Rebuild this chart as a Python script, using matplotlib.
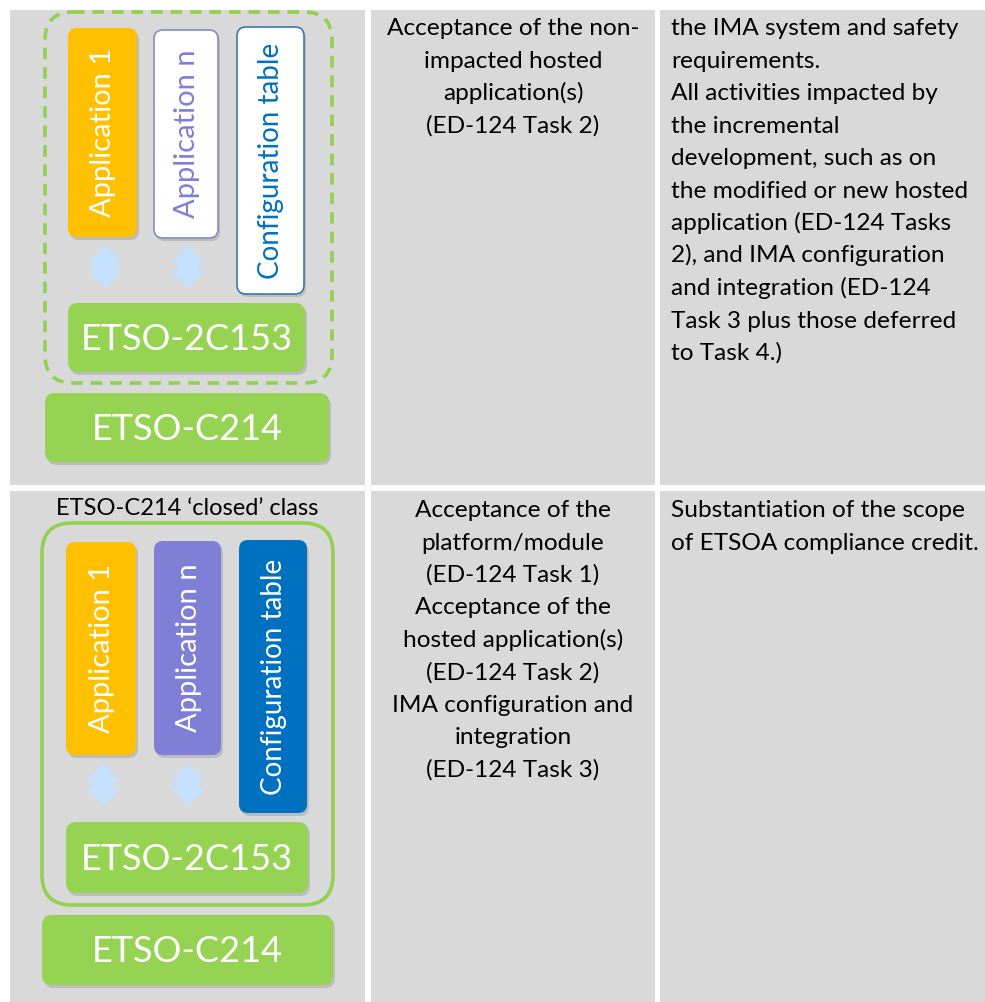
import matplotlib
matplotlib.use("Agg")
import matplotlib.pyplot as plt
from matplotlib.patches import FancyBboxPatch, Rectangle, Polygon

plt.rcParams['font.family'] = ['Lato', 'DejaVu Sans']

W, H = 985, 1002
CELL_GRAY = "#d9d9d9"

# table grid (pixel edges)
col_edges = [(10, 365), (371, 655), (660, 985)]
row_edges = [(10, 485), (491, 1002)]

# cell texts
r1c2_lines = ["Acceptance of the non-", "impacted hosted", "application(s)", "(ED-124 Task 2)"]
r1c3_lines = ["the IMA system and safety", "requirements.", "All activities impacted by",
              "the incremental", "development, such as on", "the modified or new hosted",
              "application (ED-124 Tasks", "2), and IMA configuration",
              "and integration (ED-124", "Task 3 plus those deferred", "to Task 4.)"]
r2c2_lines = ["Acceptance of the", "platform/module", "(ED-124 Task 1)", "Acceptance of the",
              "hosted application(s)", "(ED-124 Task 2)", "IMA configuration and",
              "integration", "(ED-124 Task 3)"]
r2c3_lines = ["Substantiation of the scope", "of ETSOA compliance credit."]

# diagram labels
app1_label = "Application 1"
appn_label = "Application n"
cfg_label = "Configuration table"
inner_label = "ETSO-2C153"
outer_label = "ETSO-C214"
closed_title = "ETSO-C214 \u2018closed\u2019 class"

ORANGE = "#ffc000"
GREEN = "#96d352"
GREEN_LINE = "#92d050"
PURPLE = "#7f7fd8"
PURPLE_EDGE = "#8a8ac4"
BLUE = "#0070c0"
BLUE_EDGE = "#3a78b0"
ARROW = "#c4e0fc"

fig = plt.figure(figsize=(W / 100, H / 100), dpi=100)
ax = fig.add_axes([0, 0, 1, 1])
ax.set_xlim(0, W)
ax.set_ylim(H, 0)
ax.axis("off")
fig.patch.set_facecolor("white")

for (x0, x1) in col_edges:
    for (y0, y1) in row_edges:
        ax.add_patch(Rectangle((x0, y0), x1 - x0, y1 - y0, facecolor=CELL_GRAY, edgecolor="none", zorder=0))


def rbox(x0, y0, x1, y1, fc, ec="none", lw=0, r=9, ls="-", shadow=True, z=2):
    if shadow:
        ax.add_patch(FancyBboxPatch((x0 + 2, y0 + 3), x1 - x0, y1 - y0,
                                    boxstyle=f"round,pad=0,rounding_size={r}",
                                    facecolor="#888888", edgecolor="none", alpha=0.35, zorder=z - 0.5))
    ax.add_patch(FancyBboxPatch((x0, y0), x1 - x0, y1 - y0,
                                boxstyle=f"round,pad=0,rounding_size={r}",
                                facecolor=fc, edgecolor=ec, linewidth=lw, linestyle=ls, zorder=z))


def darrow(cx, top, bot, w=18):
    h = bot - top
    pts = [(cx, top), (cx + w, top + 0.42 * h), (cx + 0.6 * w, top + 0.42 * h),
           (cx + 0.6 * w, top + 0.58 * h), (cx + w, top + 0.58 * h), (cx, bot),
           (cx - w, top + 0.58 * h), (cx - 0.6 * w, top + 0.58 * h),
           (cx - 0.6 * w, top + 0.42 * h), (cx - w, top + 0.42 * h)]
    ax.add_patch(Polygon(pts, closed=True, facecolor=ARROW, edgecolor="none", zorder=2))


def vtext(x0, y0, x1, y1, s, color, size):
    ax.text((x0 + x1) / 2 + 1, (y0 + y1) / 2, s, rotation=90, ha="center", va="center",
            color=color, fontsize=size, zorder=3)


def diagram(dashed):
    if dashed:
        ax.add_patch(FancyBboxPatch((45, 12), 287, 371, boxstyle="round,pad=0,rounding_size=28",
                                    facecolor="none", edgecolor=GREEN_LINE, linewidth=2.6,
                                    linestyle=(0, (3.2, 2.2)), zorder=1))
        a1 = (68, 28, 137, 237)
        an = (154, 30, 218, 238)
        cf = (237, 27, 304, 294)
        rbox(*a1, fc=ORANGE, r=9)
        vtext(*a1, app1_label, "white", 21)
        rbox(*an, fc="white", ec=PURPLE_EDGE, lw=1.2, r=9)
        vtext(*an, appn_label, PURPLE, 21)
        rbox(*cf, fc="white", ec=BLUE_EDGE, lw=1.2, r=9)
        vtext(*cf, cfg_label, BLUE, 20)
        darrow(105, 245, 288)
        darrow(188, 245, 288)
        inner = (68, 303, 305, 372)
        outer = (45, 393, 329, 462)
    else:
        ax.add_patch(FancyBboxPatch((42, 523), 291, 382, boxstyle="round,pad=0,rounding_size=30",
                                    facecolor="none", edgecolor=GREEN_LINE, linewidth=2.6, zorder=1))
        ax.text(187, 515, closed_title, ha="center", va="baseline", fontsize=17, color="black", zorder=3)
        a1 = (66, 542, 136, 755)
        an = (154, 541, 221, 755)
        cf = (239, 540, 307, 813)
        rbox(*a1, fc=ORANGE, r=9)
        vtext(*a1, app1_label, "white", 21)
        rbox(*an, fc=PURPLE, r=9)
        vtext(*an, appn_label, "white", 21)
        rbox(*cf, fc=BLUE, r=9)
        vtext(*cf, cfg_label, "white", 20)
        darrow(103, 763, 806)
        darrow(188, 763, 806)
        inner = (66, 822, 308, 893)
        outer = (42, 915, 333, 985)
    rbox(*inner, fc=GREEN, r=10)
    ax.text((inner[0] + inner[2]) / 2, (inner[1] + inner[3]) / 2 + 2, inner_label, ha="center", va="center",
            color="white", fontsize=26, zorder=3)
    rbox(*outer, fc=GREEN, r=10)
    ax.text((outer[0] + outer[2]) / 2, (outer[1] + outer[3]) / 2 + 2, outer_label, ha="center", va="center",
            color="white", fontsize=26, zorder=3)


diagram(True)
diagram(False)

LINE_DY = 32.5
FS = 17.6


def lines(lst, x, y_base, ha):
    for i, s in enumerate(lst):
        ax.text(x, y_base + i * LINE_DY, s, ha=ha, va="baseline", fontsize=FS, color="black", zorder=3)


cx2 = (col_edges[1][0] + col_edges[1][1]) / 2
lines(r1c2_lines, cx2, 35, "center")
lines(r1c3_lines, 671, 35, "left")
lines(r2c2_lines, cx2, 517, "center")
lines(r2c3_lines, 671, 517, "left")

fig.savefig("out.png", dpi=100)
